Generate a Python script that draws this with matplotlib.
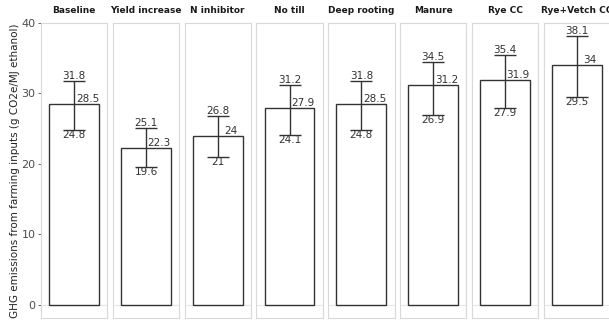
import matplotlib
matplotlib.use("Agg")
import matplotlib.pyplot as plt

scenarios = ["Baseline", "Yield increase", "N inhibitor", "No till",
             "Deep rooting", "Manure", "Rye CC", "Rye+Vetch CC"]
mean_ghg = [28.5, 22.3, 24, 27.9, 28.5, 31.2, 31.9, 34]
low_ghg = [24.8, 19.6, 21, 24.1, 24.8, 26.9, 27.9, 29.5]
high_ghg = [31.8, 25.1, 26.8, 31.2, 31.8, 34.5, 35.4, 38.1]
y_ticks = [0, 10, 20, 30, 40]

W, H = 609, 321
fig = plt.figure(figsize=(W / 100, H / 100), dpi=100)

left, pw, gap = 41, 66.3, 5.5
top, bottom = 23, 318
dark = "#333333"

axes = []
for i, name in enumerate(scenarios):
    x0 = left + i * (pw + gap)
    ax = fig.add_axes([x0 / W, 1 - bottom / H, pw / W, (bottom - top) / H])
    axes.append(ax)
    ax.axhline(0, color="#e6e6e6", lw=0.8, zorder=0)
    ax.bar([1], [mean_ghg[i]], width=0.9, facecolor="white",
           edgecolor=dark, linewidth=1.0, zorder=2)
    err = [[mean_ghg[i] - low_ghg[i]], [high_ghg[i] - mean_ghg[i]]]
    ax.errorbar([1], [mean_ghg[i]], yerr=err, fmt="none", ecolor=dark,
                elinewidth=1.0, capsize=8, capthick=1.0, zorder=3)
    ax.text(1, high_ghg[i], f"{high_ghg[i]:g}", ha="center", va="bottom",
            fontsize=7.5, color=dark, zorder=4)
    ax.text(1.24, mean_ghg[i], f"{mean_ghg[i]:g}", ha="center", va="bottom",
            fontsize=7.5, color=dark, zorder=4)
    ax.text(1, low_ghg[i], f"{low_ghg[i]:g}", ha="center", va="top",
            fontsize=7.5, color=dark, zorder=4)
    ax.set_xlim(0.4, 1.6)
    ax.set_ylim(-1.9, 40.0)
    ax.set_xticks([])
    ax.set_yticks(y_ticks)
    for sp in ax.spines.values():
        sp.set_color("#d9d9d9")
        sp.set_linewidth(0.8)
    ax.set_title(name, fontsize=6.5, fontweight="bold", color="#1a1a1a", pad=7)
    if i == 0:
        ax.tick_params(axis="y", labelsize=8, colors="#4d4d4d", length=2.5,
                       width=0.6, pad=1.5)
        ax.set_ylabel("GHG emissions from farming inputs (g CO2e/MJ ethanol)",
                      fontsize=7.5, color="#222222", labelpad=1)
    else:
        ax.tick_params(axis="y", left=False, labelleft=False)

fig.savefig("out.png", dpi=100)
